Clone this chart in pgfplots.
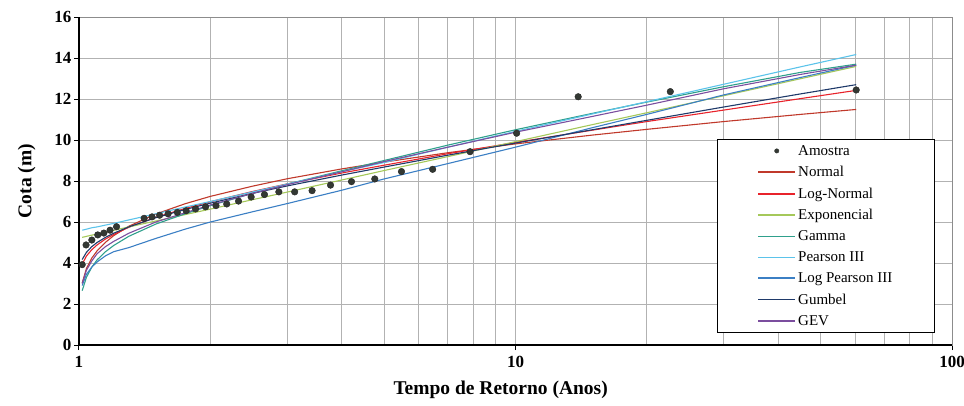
\documentclass[border=0pt]{standalone}
\usepackage{pgfplots}
\pgfplotsset{compat=1.18}
\usepackage{pgfplotstable}
\usepackage{fontspec}
\setmainfont{Liberation Serif}
\definecolor{cNormal}{HTML}{C0392B}
\definecolor{cLogN}{HTML}{E8232B}
\definecolor{cExp}{HTML}{A5C85A}
\definecolor{cGamma}{HTML}{2FA08C}
\definecolor{cP3}{HTML}{5BC3EA}
\definecolor{cLP3}{HTML}{3B7FC4}
\definecolor{cGumbel}{HTML}{1F3A6A}
\definecolor{cGEV}{HTML}{7B4E9E}
\definecolor{cDot}{HTML}{333833}

\pgfplotstableread{
T N LN E G P3 LP3 GU GEV
1.017 3.02 3.94 5.25 2.65 5.60 2.90 4.17 3.00
1.04 3.73 4.34 5.30 3.30 5.65 3.45 4.52 3.65
1.07 4.24 4.65 5.36 3.80 5.72 3.80 4.80 4.10
1.1 4.59 4.88 5.41 4.15 5.76 4.05 5.00 4.45
1.15 5.01 5.17 5.51 4.55 5.85 4.35 5.25 4.80
1.2 5.33 5.39 5.59 4.85 5.93 4.55 5.45 5.05
1.3 5.79 5.74 5.76 5.30 6.10 4.75 5.76 5.45
1.5 6.39 6.23 6.05 5.90 6.40 5.20 6.21 6.00
1.75 6.89 6.66 6.36 6.40 6.73 5.65 6.61 6.45
2 7.25 6.99 6.63 6.80 7.00 6.00 6.92 6.83
2.5 7.75 7.49 7.09 7.40 7.47 6.50 7.40 7.40
3 8.11 7.86 7.46 7.85 7.85 6.90 7.76 7.82
4 8.59 8.39 8.05 8.50 8.45 7.55 8.29 8.45
5 8.92 8.77 8.51 9.00 8.90 8.10 8.68 8.95
7 9.38 9.33 9.19 9.75 9.65 8.85 9.26 9.65
10 9.81 9.88 9.92 10.50 10.42 9.65 9.85 10.38
15 10.24 10.48 10.75 11.30 11.27 10.60 10.50 11.15
20 10.52 10.90 11.33 11.85 11.87 11.25 10.96 11.70
30 10.90 11.46 12.16 12.60 12.72 12.20 11.61 12.50
45 11.25 12.02 12.99 13.30 13.57 13.05 12.25 13.20
60.33 11.49 12.42 13.59 13.70 14.17 13.65 12.70 13.65
}\curves

\pgfplotstableread{
T Y
60.33 12.44
22.63 12.36
13.92 12.11
10.06 10.33
7.87 9.43
6.46 8.57
5.48 8.46
4.76 8.10
4.21 7.97
3.77 7.80
3.42 7.53
3.12 7.47
2.87 7.47
2.66 7.34
2.48 7.22
2.32 7.02
2.18 6.88
2.06 6.80
1.95 6.74
1.85 6.64
1.76 6.55
1.68 6.47
1.60 6.40
1.53 6.33
1.47 6.25
1.41 6.18
1.219 5.77
1.178 5.60
1.140 5.46
1.104 5.37
1.070 5.12
1.038 4.88
1.017 3.92
}\amostra

\begin{document}
\begin{tikzpicture}
\useasboundingbox (-79pt,-60pt) rectangle (885pt,345pt);
\begin{axis}[
  at={(0,0)}, anchor=south west,
  scale only axis, width=873pt, height=328pt,
  xmode=log, xmin=1, xmax=100, ymin=0, ymax=16,
  xtick={1,10,100}, xticklabels={1,10,100},
  ytick={0,2,...,16}, yticklabels={0,2,4,6,8,10,12,14,16},
  minor y tick num=0,
  grid=both,
  major grid style={draw=black!30, line width=0.9pt},
  minor grid style={draw=black!30, line width=0.9pt},
  axis line style={draw=black!45, line width=0.9pt},
  tick align=outside, xtick pos=bottom, ytick pos=left,
  major tick length=5pt, minor tick length=0pt,
  tick style={black, line width=1pt},
  clip=false,
  tick label style={font=\fontsize{17}{17}\selectfont\bfseries},
  yticklabel style={xshift=1pt},
  xticklabel style={yshift=-3pt},
  xlabel={Tempo de Retorno (Anos)},
  ylabel={Cota (m)},
  every axis x label/.style={at={(axis description cs:0.483,-0.137)}, anchor=center, font=\fontsize{19.5}{19.5}\selectfont\bfseries},
  every axis y label/.style={at={(axis description cs:-0.060,0.5)}, anchor=center, rotate=90, font=\fontsize{19.5}{19.5}\selectfont\bfseries},
  legend cell align=left,
  legend style={at={(rel axis cs:0.731,0.628)}, anchor=north west, draw=black,
    font=\fontsize{15}{15}\selectfont, inner xsep=40pt, inner ysep=4pt, row sep=5.6pt},
  legend image code/.code={\draw[#1, line width=1.8pt] (0pt,0pt) -- (37pt,0pt);},
]
\addplot[only marks, mark=*, mark size=3.3pt, draw=black!85, fill=cDot,
  legend image code/.code={\fill[cDot] (18.5pt,0pt) circle (2.2pt);}] table[x=T,y=Y] {\amostra};
\addlegendentry{Amostra}
\addplot[cNormal, line width=1.1pt] table[x=T,y=N] {\curves};
\addlegendentry{Normal}
\addplot[cLogN, line width=1.1pt] table[x=T,y=LN] {\curves};
\addlegendentry{Log-Normal}
\addplot[cExp, line width=1.1pt] table[x=T,y=E] {\curves};
\addlegendentry{Exponencial}
\addplot[cGamma, line width=1.1pt] table[x=T,y=G] {\curves};
\addlegendentry{Gamma}
\addplot[cP3, line width=1.1pt] table[x=T,y=P3] {\curves};
\addlegendentry{Pearson III}
\addplot[cLP3, line width=1.1pt] table[x=T,y=LP3] {\curves};
\addlegendentry{Log Pearson III}
\addplot[cGumbel, line width=1.1pt] table[x=T,y=GU] {\curves};
\addlegendentry{Gumbel}
\addplot[cGEV, line width=1.1pt] table[x=T,y=GEV] {\curves};
\addlegendentry{GEV}
\draw[black, line width=1.4pt] (rel axis cs:0,1) -- (rel axis cs:0,0) -- (rel axis cs:1,0);
\end{axis}
\end{tikzpicture}
\end{document}
